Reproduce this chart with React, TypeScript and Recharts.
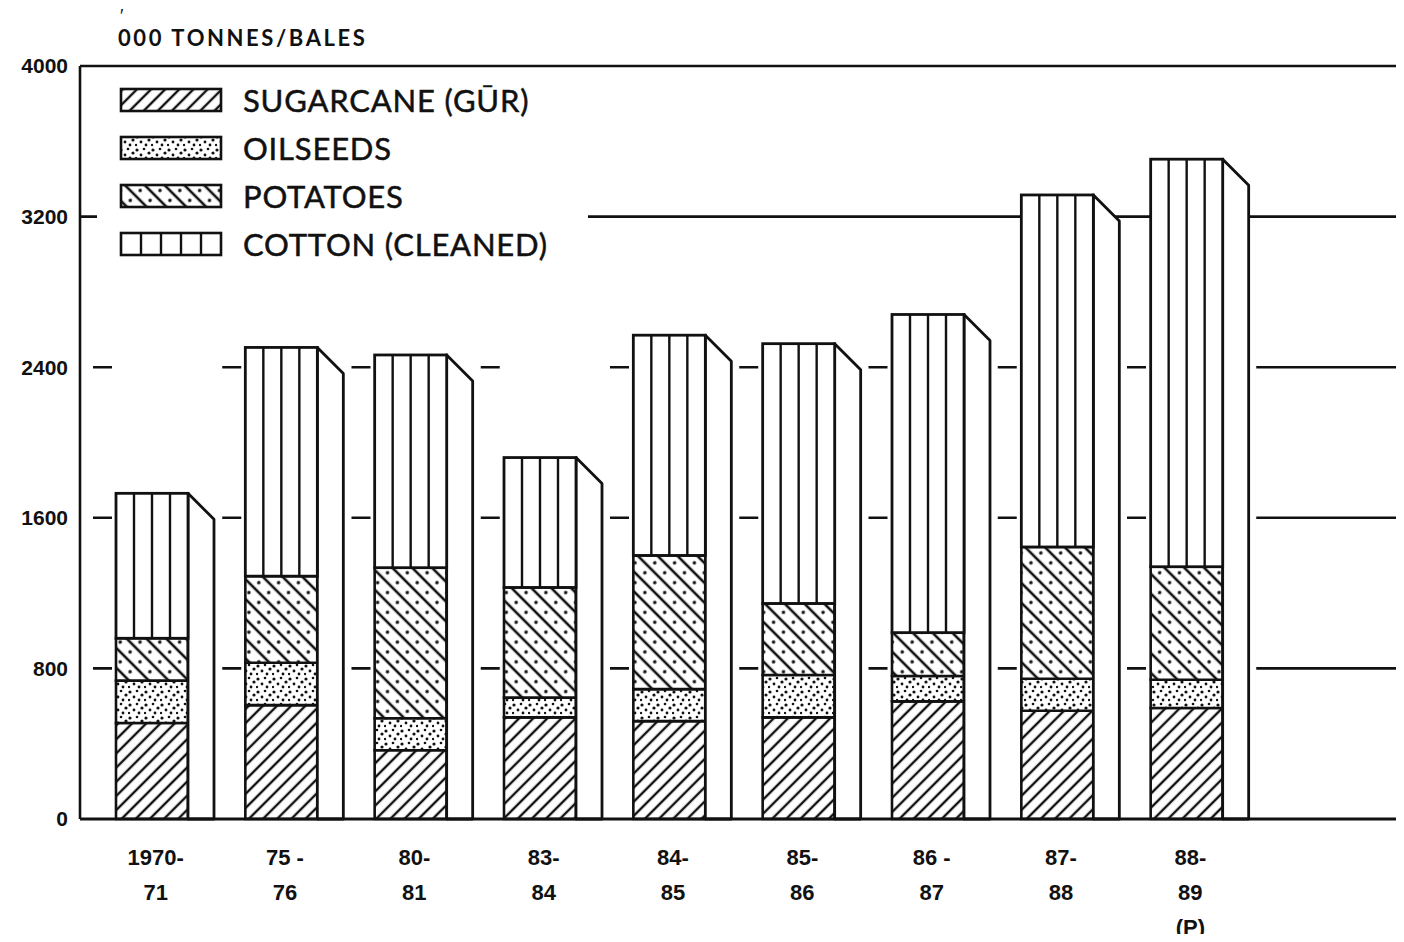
import React from "react";
import { BarChart, Bar, XAxis, YAxis, CartesianGrid, Legend } from "recharts";

// '000 tonnes / bales (stack: sugarcane, oilseeds, potatoes, cotton)
const YEARS = ["1970-|71", "75 -|76", "80-|81", "83-|84", "84-|85", "85-|86", "86 -|87", "87-|88", "88-|89|(P)"];
const SUGARCANE = [510, 605, 365, 540, 520, 540, 625, 575, 590];
const OILSEEDS = [225, 225, 170, 105, 170, 225, 135, 170, 150];
const POTATOES = [225, 460, 800, 585, 710, 380, 230, 700, 600];
const COTTON = [770, 1215, 1130, 690, 1170, 1380, 1690, 1870, 2165];

const Y_TICKS = [0, 800, 1600, 2400, 3200, 4000];
const SOLID_LINES = [3200, 4000];
const DASHED_LINES = [800, 1600, 2400];

const SERIES = [
  { key: "sugarcane", name: "SUGARCANE (GŪR)", fill: "url(#pSugar)" },
  { key: "oilseeds", name: "OILSEEDS", fill: "url(#pOil)" },
  { key: "potatoes", name: "POTATOES", fill: "url(#pPotato)" },
  { key: "cotton", name: "COTTON (CLEANED)", fill: "#fff" },
];

const data = YEARS.map((year, i) => ({
  year,
  sugarcane: SUGARCANE[i],
  oilseeds: OILSEEDS[i],
  potatoes: POTATOES[i],
  cotton: COTTON[i],
}));

// the wrapper cancels the body margin, so chart coords == page coords
const W = 1404;
const H = 942;
const MARGIN = { top: 66, right: 0, bottom: 10, left: 20 };
const X_AXIS_H = 113;
const BASE_Y = H - MARGIN.bottom - X_AXIS_H;
const DEPTH = 26;
const INK = "#111";
const BOLD_FONT = "'Liberation Sans', Arial, sans-serif";
const LABEL_FONT = "Lato, 'Open Sans', sans-serif";

// dashes sit in the gaps between bars, long run after the last bar
const GAP_DASHES = "0 13 " + Array(9).fill("19 110.25").join(" ") + " 300 0";

function Patterns() {
  return (
    <defs>
      <pattern id="pSugar" width="10" height="10" patternUnits="userSpaceOnUse" patternTransform="rotate(45)">
        <rect width="10" height="10" fill="#fff" />
        <line x1="5" y1="0" x2="5" y2="10" stroke={INK} strokeWidth="2.4" />
      </pattern>
      <pattern id="pOil" width="16" height="13" patternUnits="userSpaceOnUse">
        <rect width="16" height="13" fill="#fff" />
        <circle cx="2" cy="3" r="1.6" fill={INK} />
        <circle cx="9" cy="2" r="1.3" fill={INK} />
        <circle cx="14" cy="6" r="1.6" fill={INK} />
        <circle cx="6" cy="8" r="1.4" fill={INK} />
        <circle cx="11" cy="11" r="1.4" fill={INK} />
        <circle cx="1" cy="11" r="1.2" fill={INK} />
      </pattern>
      <pattern id="pPotato" width="14" height="14" patternUnits="userSpaceOnUse" patternTransform="rotate(-45)">
        <rect width="14" height="14" fill="#fff" />
        <line x1="2" y1="0" x2="2" y2="14" stroke={INK} strokeWidth="2.6" />
        <circle cx="9" cy="7" r="1.8" fill={INK} />
      </pattern>
    </defs>
  );
}

function CottonShape(props: any) {
  const { x, y, width, height } = props;
  if (width == null || height == null) return null;
  const right = x + width;
  const cols = [1, 2, 3].map((i) => x + (width * i) / 4);
  return (
    <g>
      <polygon
        points={`${right},${y} ${right + DEPTH},${y + DEPTH} ${right + DEPTH},${BASE_Y} ${right},${BASE_Y}`}
        fill="#fff"
        stroke={INK}
        strokeWidth={2.8}
        strokeLinejoin="round"
      />
      <rect x={x} y={y} width={width} height={height} fill="#fff" stroke={INK} strokeWidth={2.8} />
      {cols.map((cx, i) => (
        <line key={i} x1={cx} y1={y} x2={cx} y2={y + height} stroke={INK} strokeWidth={2.4} />
      ))}
    </g>
  );
}

function YearTick({ x, y, payload }: any) {
  const lines = String(payload.value).split("|");
  return (
    <text x={x + 4} y={y} textAnchor="middle" fontFamily={BOLD_FONT} fontWeight={700} fontSize={22} fill={INK}>
      {lines.map((l, i) => (
        <tspan key={i} x={x + 4} dy={i === 0 ? 38 : 35}>
          {l}
        </tspan>
      ))}
    </text>
  );
}

function Swatch({ idx }: { idx: number }) {
  const s = SERIES[idx];
  return (
    <svg width={106} height={28} style={{ display: "block" }}>
      <rect x={2} y={3} width={100} height={22} fill={s.fill} stroke={INK} strokeWidth={2.6} />
      {s.key === "cotton" &&
        [1, 2, 3, 4].map((i) => (
          <line key={i} x1={2 + i * 20} y1={3} x2={2 + i * 20} y2={25} stroke={INK} strokeWidth={2.4} />
        ))}
    </svg>
  );
}

function LegendBox() {
  return (
    <div style={{ background: "#fff", width: "100%", height: "100%" }}>
      {SERIES.map((s, i) => (
        <div key={s.key} style={{ display: "flex", alignItems: "center", height: 48, paddingLeft: 22 }}>
          <Swatch idx={i} />
          <span
            style={{
              marginLeft: 18,
              fontFamily: LABEL_FONT,
              fontSize: 31,
              color: INK,
              letterSpacing: 0.8,
              whiteSpace: "nowrap",
              WebkitTextStroke: "0.5px " + INK,
            }}
          >
            {s.name}
          </span>
        </div>
      ))}
    </div>
  );
}

export default function App() {
  return (
    <div style={{ position: "relative", width: W, height: H, margin: "-8px 0 -8px -8px", background: "#fff" }}>
      <div
        style={{
          position: "absolute",
          left: 120,
          top: 10,
          fontFamily: BOLD_FONT,
          fontSize: 18,
          lineHeight: "12px",
          color: INK,
        }}
      >
        ′
      </div>
      <div
        style={{
          position: "absolute",
          left: 118,
          top: 25,
          fontFamily: LABEL_FONT,
          fontWeight: 700,
          fontSize: 22,
          lineHeight: "26px",
          letterSpacing: 2.6,
          color: INK,
          whiteSpace: "nowrap",
        }}
      >
        000 TONNES/BALES
      </div>
      <BarChart width={W} height={H} data={data} margin={MARGIN}>
        <Patterns />
        <CartesianGrid vertical={false} horizontalValues={SOLID_LINES} stroke={INK} strokeWidth={2.6} />
        <CartesianGrid
          vertical={false}
          horizontalValues={DASHED_LINES}
          stroke={INK}
          strokeWidth={2.6}
          strokeDasharray={GAP_DASHES}
        />
        <XAxis
          dataKey="year"
          interval={0}
          height={X_AXIS_H}
          tickLine={false}
          tick={<YearTick />}
          axisLine={{ stroke: INK, strokeWidth: 3 }}
          padding={{ left: 7, right: 153 }}
        />
        <YAxis
          type="number"
          domain={[0, 4000]}
          ticks={Y_TICKS}
          interval={0}
          width={60}
          tickLine={false}
          tickMargin={6}
          axisLine={{ stroke: INK, strokeWidth: 2.6 }}
          tick={{ fill: INK, fontFamily: BOLD_FONT, fontWeight: 700, fontSize: 21 }}
        />
        <Legend
          layout="horizontal"
          verticalAlign="middle"
          align="center"
          content={<LegendBox />}
          wrapperStyle={{ position: "absolute", left: 97, top: 76, width: 491, height: 192 }}
        />
        {SERIES.map((s) => (
          <Bar
            key={s.key}
            dataKey={s.key}
            name={s.name}
            stackId="crops"
            barSize={72}
            fill={s.fill}
            stroke={INK}
            strokeWidth={2.6}
            isAnimationActive={false}
            shape={s.key === "cotton" ? <CottonShape /> : undefined}
          />
        ))}
      </BarChart>
    </div>
  );
}
